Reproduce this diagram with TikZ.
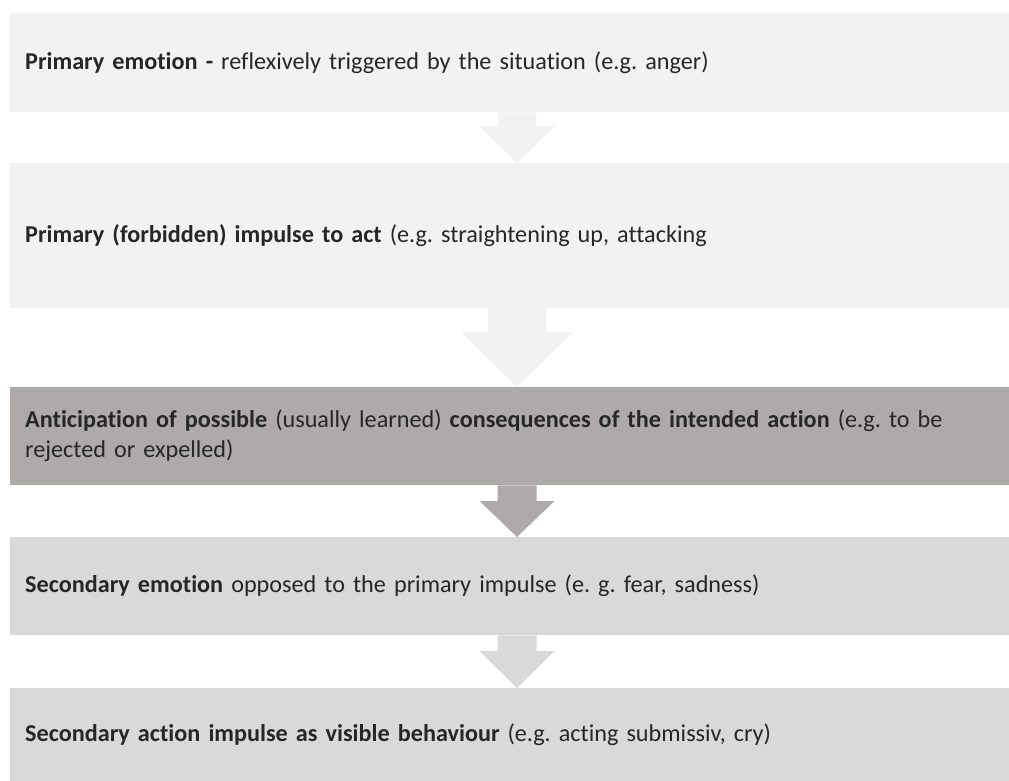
\documentclass[tikz,border=0pt]{standalone}
\usepackage{fontspec}
\setmainfont{Carlito}[Ligatures={NoCommon}]
\usetikzlibrary{calc}
\frenchspacing
\definecolor{paleGray}{HTML}{F2F2F2}
\definecolor{darkGray}{HTML}{AEAAAA}
\definecolor{midGray}{HTML}{D9D9D9}
\definecolor{inkGray}{HTML}{262626}
% block arrow from the bottom of one box to the top of the next:
% #1 colour, #2 upper box, #3 lower box, #4 stem half width, #5 head half width, #6 head length
\newcommand\flowarrow[6]{%
  \path[fill=#1] let \p1=(#2.south), \p2=(#3.north) in
    ({517pt-#4pt},\y1) -- ({517pt-#4pt},{\y2+#6pt}) -- ({517pt-#5pt},{\y2+#6pt})
    -- (517pt,\y2) -- ({517pt+#5pt},{\y2+#6pt}) -- ({517pt+#4pt},{\y2+#6pt})
    -- ({517pt+#4pt},\y1) -- cycle;}
\begin{document}
\begin{tikzpicture}[x=1pt,y=-1pt,
  stagebox/.style={rectangle, anchor=north west, inner xsep=15pt, inner ysep=0pt,
    text width=969pt, align=left, minimum width=999pt, text=inkGray,
    font=\fontsize{24.2}{30}\selectfont}]
\useasboundingbox (0,0) rectangle (1009,781);
\node[stagebox, fill=paleGray, minimum height=99pt] (b1) at (10,13)
  {\textbf{Primary emotion -} reflexively triggered by the situation (e.g. anger)};
\node[stagebox, fill=paleGray, minimum height=145pt] (b2) at (10,163)
  {\textbf{Primary (forbidden) impulse to act} (e.g. straightening up, attacking};
\node[stagebox, fill=darkGray, minimum height=98pt] (b3) at (10,387)
  {\textbf{Anticipation of possible} (usually learned) \textbf{consequences of the intended action} (e.g. to be\\ rejected or expelled)};
\node[stagebox, fill=midGray, minimum height=98pt] (b4) at (10,537)
  {\textbf{Secondary emotion} opposed to the primary impulse (e. g. fear, sadness)};
\node[stagebox, fill=midGray, minimum height=93pt] (b5) at (10,688)
  {\textbf{Secondary action impulse as visible behaviour} (e.g. acting submissiv, cry)};
\flowarrow{paleGray}{b1}{b2}{19}{38}{37}
\flowarrow{paleGray}{b2}{b3}{29}{56}{55}
\flowarrow{darkGray}{b3}{b4}{19.5}{37.5}{36}
\flowarrow{midGray}{b4}{b5}{19.5}{37.5}{37}
\end{tikzpicture}
\end{document}
